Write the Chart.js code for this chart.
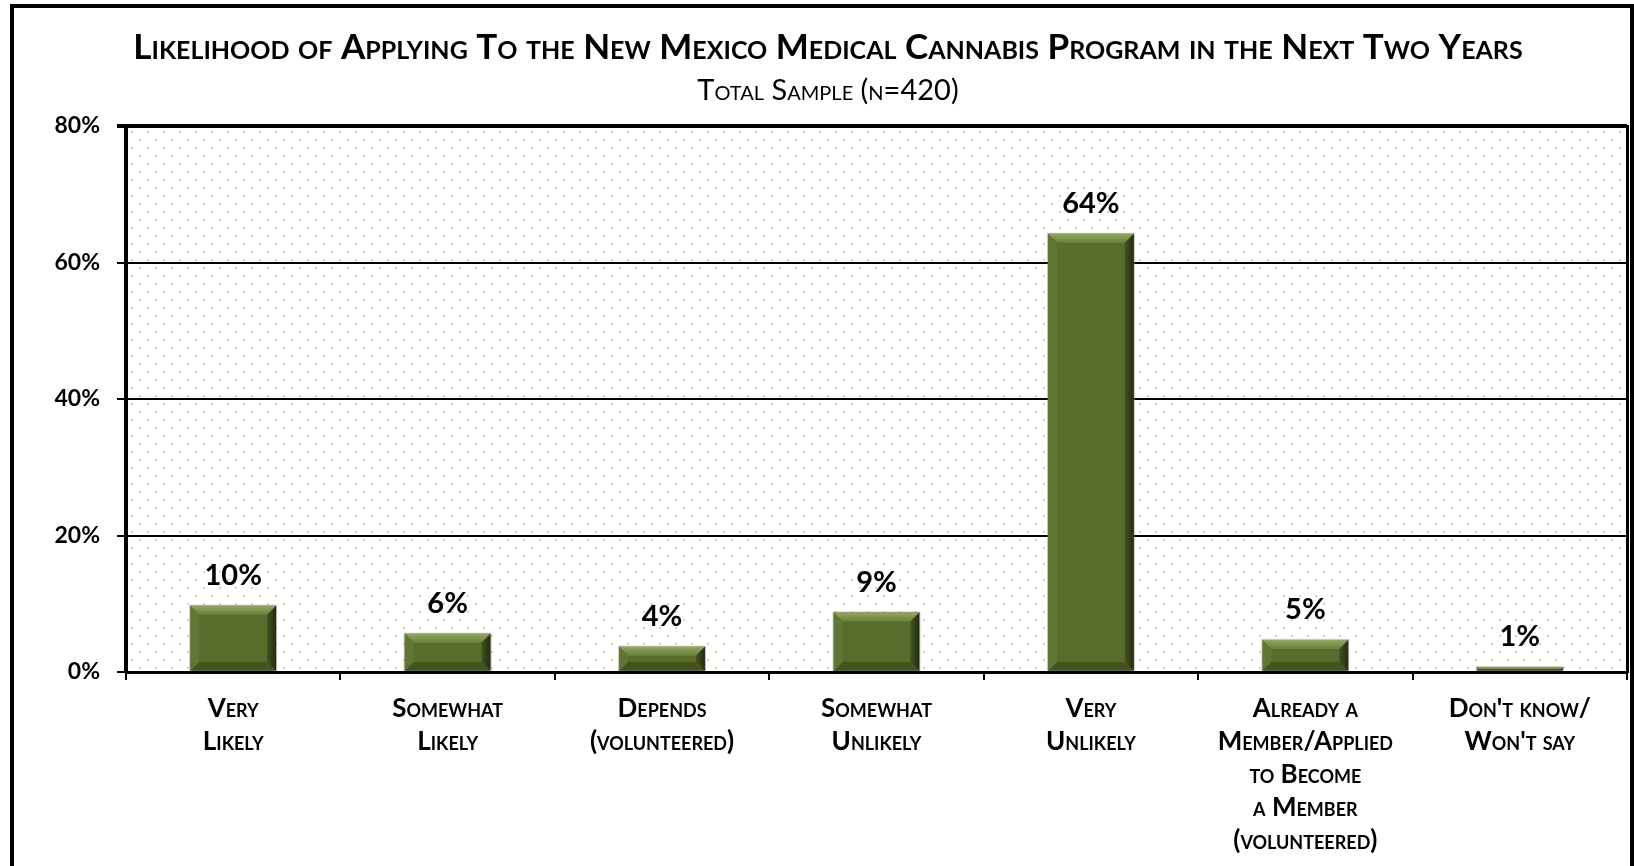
<!DOCTYPE html>
<html>
<head>
<meta charset="utf-8">
<title>Likelihood of Applying</title>
<script src="https://cdn.jsdelivr.net/npm/chart.js@4.4.0/dist/chart.umd.min.js"></script>
<style>
  html, body { margin: 0; padding: 0; background: #fff; overflow: hidden; }
  #wrap { position: relative; width: 1634px; height: 866px; }
  #chart { position: absolute; left: 0; top: 0; }
  #frame { position: absolute; left: 10px; top: 4px; width: 1616px; height: 900px; border: 4px solid #000; pointer-events: none; }
</style>
</head>
<body>
<div id="wrap">
  <canvas id="chart" width="1634" height="866"></canvas>
  <div id="frame"></div>
</div>
<script>
// data
const categories = [
  ['Very', 'Likely'],
  ['Somewhat', 'Likely'],
  ['Depends', '(volunteered)'],
  ['Somewhat', 'Unlikely'],
  ['Very', 'Unlikely'],
  ['Already a', 'Member/Applied', 'to Become', 'a Member', '(volunteered)'],
  ["Don't know/", "Won't say"]
];
const shares = [9.7, 5.6, 3.7, 8.7, 64.2, 4.7, 0.7];
const yTicks = [0, 20, 40, 60, 80];

const titleText = 'Likelihood of Applying To the New Mexico Medical Cannabis Program in the Next Two Years';
const subtitleText = 'Total Sample (n=420)';

const FONT = 'Lato, "Open Sans", sans-serif';
const barColor = '#586c2c';

// dotted background like the excel 5% pattern
function makeDots() {
  const c = document.createElement('canvas');
  c.width = 16; c.height = 16;
  const g = c.getContext('2d');
  g.fillStyle = '#ffffff';
  g.fillRect(0, 0, 16, 16);
  g.fillStyle = '#d6d6aa';
  g.fillRect(3, 3, 2, 2);
  g.fillRect(11, 11, 2, 2);
  return c;
}

const dotBackground = {
  id: 'dotBackground',
  beforeDraw(chart) {
    const {ctx, chartArea} = chart;
    ctx.save();
    ctx.fillStyle = ctx.createPattern(makeDots(), 'repeat');
    ctx.fillRect(chartArea.left, chartArea.top, chartArea.right - chartArea.left, chartArea.bottom - chartArea.top);
    ctx.restore();
  }
};

// bevel on each bar
const bevelBars = {
  id: 'bevelBars',
  afterDatasetsDraw(chart) {
    const ctx = chart.ctx;
    const meta = chart.getDatasetMeta(0);
    meta.data.forEach(bar => {
      const l = bar.x - bar.width / 2, r = bar.x + bar.width / 2;
      const t = bar.y, bt = bar.base;
      const b = Math.min(9, (bt - t) / 2);
      if (b <= 0) return;
      ctx.save();
      const poly = (pts, fill) => {
        ctx.beginPath();
        ctx.moveTo(pts[0][0], pts[0][1]);
        for (let i = 1; i < pts.length; i++) ctx.lineTo(pts[i][0], pts[i][1]);
        ctx.closePath();
        ctx.fillStyle = fill;
        ctx.fill();
      };
      let g = ctx.createLinearGradient(0, t, 0, t + b);
      g.addColorStop(0, '#93a464');
      g.addColorStop(1, '#6c8039');
      poly([[l, t], [r, t], [r - b, t + b], [l + b, t + b]], g);
      poly([[l, t], [l + b, t + b], [l + b, bt - b], [l, bt]], '#617536');
      g = ctx.createLinearGradient(r - b, 0, r, 0);
      g.addColorStop(0, '#435420');
      g.addColorStop(1, '#232c0d');
      poly([[r, t], [r, bt], [r - b, bt - b], [r - b, t + b]], g);
      g = ctx.createLinearGradient(0, bt - b, 0, bt);
      g.addColorStop(0, '#4c5e22');
      g.addColorStop(1, '#34411556');
      poly([[l, bt], [l + b, bt - b], [r - b, bt - b], [r, bt]], '#44541d');
      ctx.strokeStyle = 'rgba(120,120,120,0.45)';
      ctx.lineWidth = 1;
      ctx.strokeRect(l - 0.5, t - 0.5, r - l + 1, bt - t);
      ctx.restore();
    });
  }
};

const valueLabels = {
  id: 'valueLabels',
  afterDatasetsDraw(chart) {
    const ctx = chart.ctx;
    const meta = chart.getDatasetMeta(0);
    ctx.save();
    ctx.font = 'bold 29px ' + FONT;
    ctx.fillStyle = '#000';
    ctx.textAlign = 'center';
    ctx.textBaseline = 'alphabetic';
    meta.data.forEach((bar, i) => {
      ctx.fillText(Math.round(shares[i]) + '%', bar.x, bar.y - 21);
    });
    ctx.restore();
  }
};

new Chart(document.getElementById('chart'), {
  type: 'bar',
  data: {
    labels: categories,
    datasets: [{
      data: shares,
      backgroundColor: barColor,
      borderWidth: 0,
      categoryPercentage: 1,
      barPercentage: 0.4
    }]
  },
  options: {
    responsive: false,
    animation: false,
    devicePixelRatio: 1,
    layout: { padding: { left: 22, right: 0, top: 0, bottom: 0 } },
    plugins: {
      legend: { display: false },
      tooltip: { enabled: false },
      title: {
        display: true,
        text: titleText,
        color: '#000',
        font: { family: FONT, size: 35, weight: 'small-caps bold', lineHeight: '42px' },
        padding: { top: 27, bottom: 5 }
      },
      subtitle: {
        display: true,
        text: subtitleText,
        color: '#000',
        font: { family: FONT, size: 29, weight: 'small-caps normal', lineHeight: '34px' },
        padding: { top: 0, bottom: 18 }
      }
    },
    scales: {
      x: {
        grid: { display: true, drawOnChartArea: false, color: '#000', lineWidth: 2, tickLength: 8 },
        border: { display: true, color: '#000', width: 3 },
        ticks: {
          color: '#000',
          padding: 12,
          maxRotation: 0,
          autoSkip: false,
          font: { family: FONT, size: 26, weight: 'small-caps bold', lineHeight: '33px' }
        },
        afterFit(scale) { scale.height = 194; }
      },
      y: {
        min: 0,
        max: 80,
        afterBuildTicks(scale) { scale.ticks = yTicks.map(v => ({ value: v })); },
        grid: {
          color: '#000',
          lineWidth: ctx => (ctx.tick && ctx.tick.value === 80 ? 4 : 2),
          tickLength: 9
        },
        border: { display: true, color: '#000', width: 4 },
        ticks: {
          color: '#000',
          padding: 17,
          font: { family: FONT, size: 23, weight: 'bold' },
          callback: v => v + '%'
        },
        afterFit(scale) { scale.width = 104; }
      },
      yRight: {
        position: 'right',
        min: 0,
        max: 80,
        grid: { display: false, drawOnChartArea: false, drawTicks: false },
        border: { display: true, color: '#000', width: 3 },
        ticks: { display: false },
        afterFit(scale) { scale.width = 7; }
      }
    }
  },
  plugins: [dotBackground, bevelBars, valueLabels]
});
</script>
</body>
</html>
